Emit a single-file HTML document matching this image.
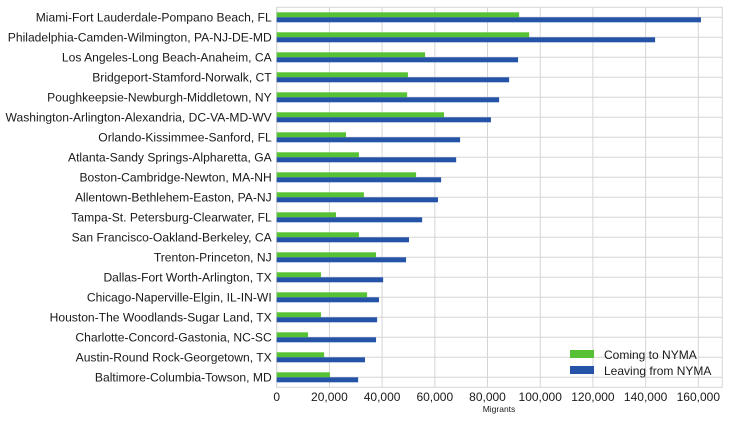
<!DOCTYPE html>
<html><head><meta charset="utf-8"><style>
body{margin:0;background:#fff;font-family:"Liberation Sans",Arial,sans-serif}
svg text{font-family:"Liberation Sans",Arial,sans-serif;fill:#1a1a1a}
</style></head><body>
<svg id="chart" width="729" height="421" viewBox="0 0 729 421" xmlns="http://www.w3.org/2000/svg"></svg>
<script>
const categories=["Miami-Fort Lauderdale-Pompano Beach, FL","Philadelphia-Camden-Wilmington, PA-NJ-DE-MD","Los Angeles-Long Beach-Anaheim, CA","Bridgeport-Stamford-Norwalk, CT","Poughkeepsie-Newburgh-Middletown, NY","Washington-Arlington-Alexandria, DC-VA-MD-WV","Orlando-Kissimmee-Sanford, FL","Atlanta-Sandy Springs-Alpharetta, GA","Boston-Cambridge-Newton, MA-NH","Allentown-Bethlehem-Easton, PA-NJ","Tampa-St. Petersburg-Clearwater, FL","San Francisco-Oakland-Berkeley, CA","Trenton-Princeton, NJ","Dallas-Fort Worth-Arlington, TX","Chicago-Naperville-Elgin, IL-IN-WI","Houston-The Woodlands-Sugar Land, TX","Charlotte-Concord-Gastonia, NC-SC","Austin-Round Rock-Georgetown, TX","Baltimore-Columbia-Towson, MD"];
const coming=[92000,95800,56300,49800,49500,63500,26300,31200,52900,33100,22500,31200,37700,16800,34300,16800,11900,18000,20200];
const leaving=[161000,143600,91600,88200,84400,81300,69600,68100,62400,61200,55200,50200,49100,40400,38800,38100,37700,33500,30900];
const xTicks=[0,20000,40000,60000,80000,100000,120000,140000,160000];
const xMax=169100;
const L=276.7,R=722.3,T=7.3,B=387.3;
const svg=document.getElementById('chart');
const NS='http://www.w3.org/2000/svg';
function x(v){return L+(v/xMax)*(R-L);}
const step=(B-T)/categories.length;
function yc(i){return T+step*(i+0.5);}
function mk(tag,attrs,parent){const e=document.createElementNS(NS,tag);for(const k in attrs)e.setAttribute(k,attrs[k]);(parent||svg).appendChild(e);return e;}
const grid=mk('g',{});


xTicks.forEach(t=>{mk('line',{x1:x(t),x2:x(t),y1:T,y2:B,stroke:'#d5d5d5','stroke-width':1},grid);});
categories.forEach((c,i)=>{mk('line',{x1:L,x2:R,y1:yc(i),y2:yc(i),stroke:'#d5d5d5','stroke-width':1},grid);});
mk('rect',{x:L,y:T,width:R-L,height:B-T,fill:'none',stroke:'#d5d5d5','stroke-width':1});
const bh=step*0.25;
categories.forEach((c,i)=>{
  const g=mk('rect',{x:x(0),y:yc(i)-bh,width:x(coming[i])-x(0),height:bh,fill:'#57c135'});
  
  
  const b=mk('rect',{x:x(0),y:yc(i),width:x(leaving[i])-x(0),height:bh,fill:'#2453a8'});
  
  
  const t=mk('text',{x:L-5,y:yc(i)+4.3,'text-anchor':'end','font-size':'12.1px'});
  t.textContent=c;
  
  
});
xTicks.forEach(t=>{
  const e=mk('text',{x:x(t),y:401,'text-anchor':'middle','font-size':'12px'});
  e.textContent=t.toLocaleString('en-US');
  
  
});
const xt=mk('text',{x:499,y:412,'text-anchor':'middle','font-size':'8.5px'});
xt.textContent='Migrants';


const lg=mk('g',{});


mk('rect',{x:570,y:350,width:24,height:8,fill:'#57c135'},lg);
const l1=mk('text',{x:604,y:359,'font-size':'12px'},lg);l1.textContent='Coming to NYMA';
mk('rect',{x:570,y:366,width:24,height:8,fill:'#2453a8'},lg);
const l2=mk('text',{x:604,y:375,'font-size':'12px'},lg);l2.textContent='Leaving from NYMA';
</script>
</body></html>
